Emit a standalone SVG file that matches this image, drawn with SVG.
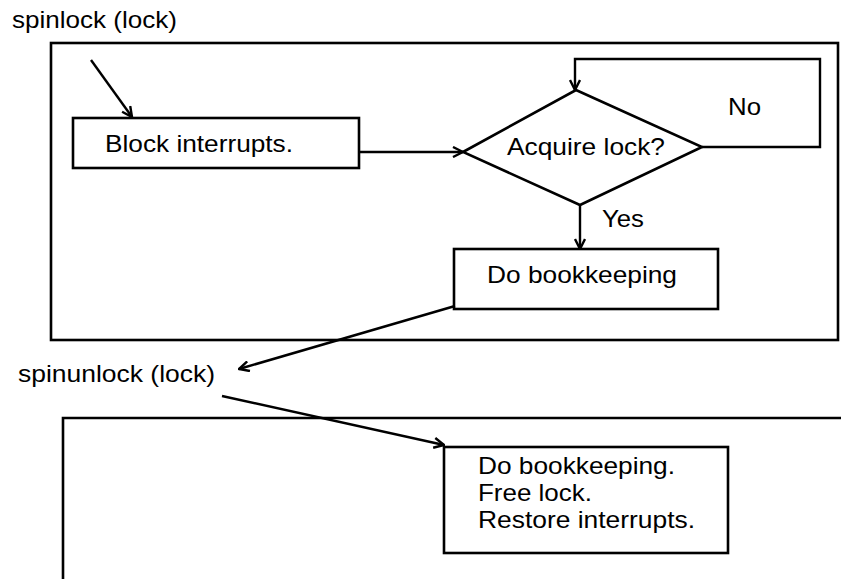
<svg xmlns="http://www.w3.org/2000/svg" width="841" height="579" viewBox="0 0 841 579">
  <style>
    .frame { fill: none; stroke: #000; stroke-width: 2.6; }
    .box { fill: #fff; stroke: #000; stroke-width: 2.6; }
    .wire { fill: none; stroke: #000; stroke-width: 2.4; }
    .arrow { marker-end: url(#arr); }
    text { font-family: "Liberation Sans", Arial, sans-serif; font-size: 24px; fill: #000; }
  </style>
  <defs>
    <marker id="arr" viewBox="0 0 12 12" refX="11" refY="6" markerWidth="12" markerHeight="12" markerUnits="userSpaceOnUse" orient="auto">
      <path d="M1,1 L11,6 L1,11" fill="none" stroke="#000" stroke-width="2.4"/>
    </marker>
  </defs>

  <rect width="841" height="579" fill="#fff"/>

  <!-- spinlock section -->
  <g id="spinlock-label">
    <text x="12" y="28" textLength="165" lengthAdjust="spacingAndGlyphs">spinlock (lock)</text>
  </g>
  <g id="spinlock-frame">
    <rect class="frame" x="51" y="43" width="787" height="297"/>
  </g>
  <g id="block-interrupts">
    <rect class="box" x="73" y="118" width="286" height="50"/>
    <text x="105" y="152" textLength="188" lengthAdjust="spacingAndGlyphs">Block interrupts.</text>
  </g>
  <g id="acquire-lock">
    <polygon class="box" points="463,152 576,90 702,147 580,205"/>
    <text x="507" y="155" textLength="158" lengthAdjust="spacingAndGlyphs">Acquire lock?</text>
  </g>
  <g id="do-bookkeeping">
    <rect class="box" x="454" y="249" width="264" height="60"/>
    <text x="487" y="283" textLength="190" lengthAdjust="spacingAndGlyphs">Do bookkeeping</text>
  </g>

  <!-- spinunlock section -->
  <g id="spinunlock-label">
    <text x="18" y="382" textLength="197" lengthAdjust="spacingAndGlyphs">spinunlock (lock)</text>
  </g>
  <g id="spinunlock-frame">
    <path class="frame" d="M63,579 V418 H841"/>
  </g>
  <g id="release-steps">
    <rect class="box" x="444" y="447" width="284" height="106"/>
    <text x="478" y="474" textLength="197" lengthAdjust="spacingAndGlyphs">Do bookkeeping.</text>
    <text x="478" y="501" textLength="114" lengthAdjust="spacingAndGlyphs">Free lock.</text>
    <text x="478" y="528" textLength="217" lengthAdjust="spacingAndGlyphs">Restore interrupts.</text>
  </g>

  <!-- connectors -->
  <g id="connectors">
    <line class="wire arrow" x1="91" y1="60" x2="132" y2="117"/>
    <line class="wire arrow" x1="359" y1="152" x2="463" y2="152"/>
    <polyline class="wire arrow" points="702,147 820,147 820,59 575,59 575,90"/>
    <line class="wire arrow" x1="580" y1="205" x2="580" y2="249"/>
    <line class="wire arrow" x1="455" y1="306" x2="239" y2="369"/>
    <line class="wire arrow" x1="222" y1="396" x2="444" y2="445"/>
    <text x="728" y="115" textLength="33" lengthAdjust="spacingAndGlyphs">No</text>
    <text x="602" y="227" textLength="42" lengthAdjust="spacingAndGlyphs">Yes</text>
  </g>
</svg>
